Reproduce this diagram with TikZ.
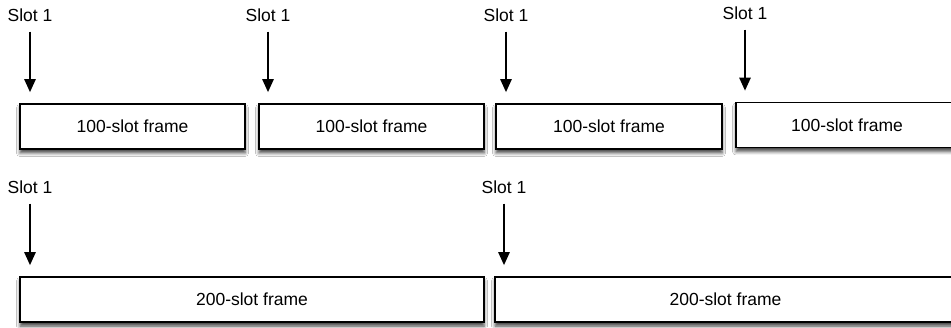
\documentclass[tikz,border=0pt]{standalone}
\usepackage{fontspec}
\setmainfont{Liberation Sans}
\usetikzlibrary{arrows.meta,shadows.blur}
\tikzset{
  framebox/.style={draw=black, line width=1.5pt, fill=white, minimum height=45pt,
    inner sep=0pt, anchor=center, font=\fontsize{17.5}{21}\selectfont,
    blur shadow={shadow xshift=0pt, shadow yshift=-4pt, shadow blur radius=3.5pt, shadow opacity=75}},
  slotlabel/.style={inner sep=0pt, font=\fontsize{17.5}{21}\selectfont},
  slotarrow/.style={line width=2.4pt, -{Triangle[length=13pt,width=11pt]}, shorten <=10pt, shorten >=11pt}
}
\begin{document}
\begin{tikzpicture}[x=1pt,y=-1pt]
\clip (0,0) rectangle (951,328);
\fill[white] (0,0) rectangle (951,328);
% top row
\node[framebox, minimum width=225pt] (f1) at (132.5,126.5) {100-slot frame};
\node[framebox, minimum width=225pt] (f2) at (371.5,126.5) {100-slot frame};
\node[framebox, minimum width=226pt] (f3) at (609,126.5) {100-slot frame};
\node[framebox, minimum width=222pt] (f4) at (847,125) {100-slot frame};
\node[slotlabel] (s1) at (30,15) {Slot 1};
\node[slotlabel] (s2) at (268,15) {Slot 1};
\node[slotlabel] (s3) at (506,15) {Slot 1};
\node[slotlabel] (s4) at (745,13) {Slot 1};
\draw[slotarrow] (s1.south) -- (s1.south |- f1.north);
\draw[slotarrow] (s2.south) -- (s2.south |- f2.north);
\draw[slotarrow] (s3.south) -- (s3.south |- f3.north);
\draw[slotarrow] (s4.south) -- (s4.south |- f4.north);
% bottom row
\node[framebox, minimum width=464pt] (g1) at (252,299.5) {200-slot frame};
\node[framebox, minimum width=461pt] (g2) at (725.5,299.5) {200-slot frame};
\node[slotlabel] (t1) at (30,187) {Slot 1};
\node[slotlabel] (t2) at (504,187) {Slot 1};
\draw[slotarrow] (t1.south) -- (t1.south |- g1.north);
\draw[slotarrow] (t2.south) -- (t2.south |- g2.north);
\end{tikzpicture}
\end{document}
